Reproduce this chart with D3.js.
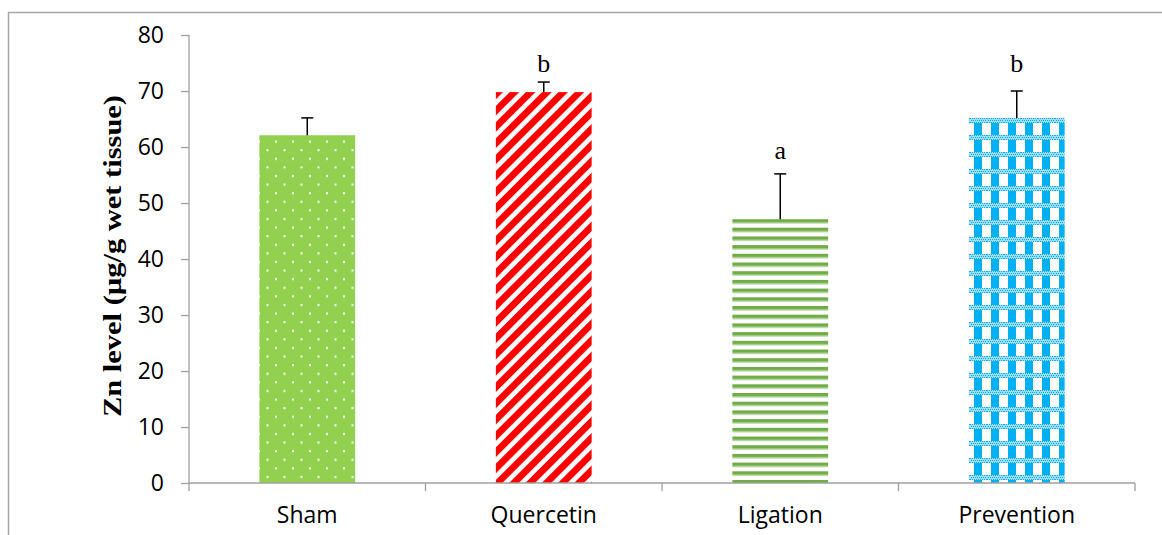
<!DOCTYPE html>
<html>
<head>
<meta charset="utf-8">
<script src="https://cdn.jsdelivr.net/npm/d3@7"></script>
<style>
  body { margin: 0; background: #fff; }
  svg { display: block; }
</style>
</head>
<body>
<div id="chart"></div>
<script>
// data
var groups = ['Sham', 'Quercetin', 'Ligation', 'Prevention'];
var zinc = [62.1, 69.8, 47.1, 65.2];
var errUp = [3.1, 1.8, 8.1, 4.8];
var letters = ['', 'b', 'a', 'b'];
var letterAt = [null, 73.4, 57.9, 73.4];
var yTicks = [0, 10, 20, 30, 40, 50, 60, 70, 80];

var width = 1162, height = 535;
var margin = {top: 35, right: 27, bottom: 52, left: 189};

var svg = d3.select('#chart').append('svg')
    .attr('width', width)
    .attr('height', height);

// outer frame (runs off the right and bottom edge)
svg.append('rect')
    .attr('x', 8.5).attr('y', 12.5)
    .attr('width', 1200).attr('height', 600)
    .attr('fill', 'none')
    .attr('stroke', '#a6a6a6')
    .attr('stroke-width', 1.5);

var defs = svg.append('defs');

// Sham: green with white dots
var p1 = defs.append('pattern').attr('id', 'pat0')
    .attr('patternUnits', 'userSpaceOnUse')
    .attr('width', 17).attr('height', 17.2);
p1.append('rect').attr('width', 17).attr('height', 17.2).attr('fill', '#92d050');
p1.append('rect').attr('x', 3).attr('y', 3).attr('width', 2).attr('height', 2).attr('fill', '#fff');
p1.append('rect').attr('x', 11.5).attr('y', 11.6).attr('width', 2).attr('height', 2).attr('fill', '#fff');

// Quercetin: red diagonal stripes
var p2 = defs.append('pattern').attr('id', 'pat1')
    .attr('patternUnits', 'userSpaceOnUse')
    .attr('width', 11.5).attr('height', 11.5)
    .attr('patternTransform', 'rotate(-45)');
p2.append('rect').attr('width', 11.5).attr('height', 11.5).attr('fill', '#fff');
p2.append('rect').attr('width', 11.5).attr('height', 6.8).attr('fill', '#ff0000');

// Ligation: green horizontal stripes
var p3 = defs.append('pattern').attr('id', 'pat2')
    .attr('patternUnits', 'userSpaceOnUse')
    .attr('width', 10).attr('height', 8.7)
    .attr('y', 219);
p3.append('rect').attr('width', 10).attr('height', 8.7).attr('fill', '#fff');
p3.append('rect').attr('y', 0).attr('width', 10).attr('height', 3.6).attr('fill', '#70ad47');
p3.append('rect').attr('y', 3.6).attr('width', 10).attr('height', 1).attr('fill', '#b5d69f');

// Prevention: blue plaid
var p4 = defs.append('pattern').attr('id', 'pat3')
    .attr('patternUnits', 'userSpaceOnUse')
    .attr('width', 17).attr('height', 17)
    .attr('x', 732).attr('y', 118);
p4.append('rect').attr('width', 17).attr('height', 17).attr('fill', '#fff');
p4.append('rect').attr('x', 4).attr('y', 0).attr('width', 8).attr('height', 17).attr('fill', '#00b0f0');
p4.append('rect').attr('x', 0).attr('y', 0).attr('width', 17).attr('height', 5).attr('fill', '#9fdcf7');
for (var i = 0; i < 17; i += 2) {
    for (var j = 0; j < 5; j += 2) {
        p4.append('rect').attr('x', i + (j % 4 === 0 ? 0 : 1)).attr('y', j)
            .attr('width', 1).attr('height', 1).attr('fill', '#00b0f0');
    }
}

var x = d3.scaleBand()
    .domain(groups)
    .range([margin.left, width - margin.right])
    .paddingInner(0)
    .paddingOuter(0);

var y = d3.scaleLinear()
    .domain([0, 80])
    .range([height - margin.bottom, margin.top]);

var barW = x.bandwidth() * 0.405;

// bars
svg.append('g').selectAll('rect')
    .data(groups)
    .enter().append('rect')
    .attr('x', function (d) { return x(d) + (x.bandwidth() - barW) / 2; })
    .attr('y', function (d, i) { return y(zinc[i]); })
    .attr('width', barW)
    .attr('height', function (d, i) { return y(0) - y(zinc[i]); })
    .attr('fill', function (d, i) { return 'url(#pat' + i + ')'; });

// error bars (upper only)
var eb = svg.append('g').attr('stroke', '#000').attr('stroke-width', 1.5);
groups.forEach(function (g, i) {
    var cx = x(g) + x.bandwidth() / 2;
    eb.append('line')
        .attr('x1', cx).attr('x2', cx)
        .attr('y1', y(zinc[i])).attr('y2', y(zinc[i] + errUp[i]));
    eb.append('line')
        .attr('x1', cx - 6).attr('x2', cx + 6)
        .attr('y1', y(zinc[i] + errUp[i])).attr('y2', y(zinc[i] + errUp[i]));
});

// significance letters
svg.append('g').selectAll('text')
    .data(groups)
    .enter().append('text')
    .attr('x', function (d) { return x(d) + x.bandwidth() / 2; })
    .attr('y', function (d, i) { return letterAt[i] === null ? 0 : y(letterAt[i]); })
    .attr('text-anchor', 'middle')
    .style('font-family', '"Liberation Serif", "DejaVu Serif", serif')
    .style('font-size', '26px')
    .text(function (d, i) { return letters[i]; });

var sans = '"Open Sans", "Noto Sans", sans-serif';

// y axis
var yAxis = svg.append('g')
    .attr('transform', 'translate(' + margin.left + ',0)')
    .call(d3.axisLeft(y).tickValues(yTicks).tickSize(8).tickPadding(17));
yAxis.selectAll('path, line').attr('stroke', '#a0a0a0').attr('stroke-width', 1.3);
yAxis.select('.domain').attr('d', 'M0,' + y(80) + 'V' + y(0));
yAxis.selectAll('text')
    .style('font-family', sans)
    .style('font-size', '23px')
    .attr('fill', '#000');

// x axis
var xAxis = svg.append('g')
    .attr('transform', 'translate(0,' + y(0) + ')')
    .call(d3.axisBottom(x).tickSize(0).tickPadding(24));
xAxis.select('.domain').attr('stroke', '#a0a0a0').attr('stroke-width', 1.3)
    .attr('d', 'M' + margin.left + ',0H' + (width - margin.right));
xAxis.selectAll('text')
    .style('font-family', sans)
    .style('font-size', '23px')
    .attr('fill', '#000');
// category boundary ticks
var bounds = groups.map(function (g) { return x(g); }).concat([width - margin.right]);
xAxis.selectAll('.bound')
    .data(bounds)
    .enter().append('line')
    .attr('class', 'bound')
    .attr('x1', function (d) { return d; }).attr('x2', function (d) { return d; })
    .attr('y1', 0).attr('y2', 8)
    .attr('stroke', '#a0a0a0').attr('stroke-width', 1.3);

// y axis title
svg.append('text')
    .attr('transform', 'translate(121,' + ((margin.top + height - margin.bottom) / 2 - 3) + ') rotate(-90)')
    .attr('text-anchor', 'middle')
    .attr('textLength', 322)
    .attr('lengthAdjust', 'spacingAndGlyphs')
    .style('font-family', '"Liberation Serif", "DejaVu Serif", serif')
    .style('font-weight', 'bold')
    .style('font-size', '26px')
    .text('Zn level (µg/g wet tissue)');
</script>
</body>
</html>
